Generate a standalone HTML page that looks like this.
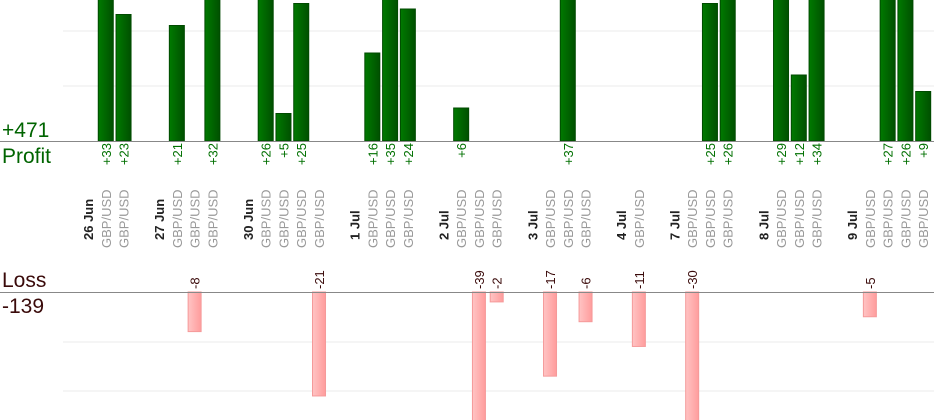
<!DOCTYPE html>
<html><head><meta charset="utf-8"><style>
html,body{margin:0;padding:0;background:#fff;width:934px;height:420px;overflow:hidden}
svg{display:block;font-family:"Liberation Sans",sans-serif}
</style></head><body>
<svg id="chart" width="934" height="420" viewBox="0 0 934 420">
<defs>
<linearGradient id="gG" x1="0" x2="1"><stop offset="0" stop-color="#007a00"/><stop offset="1" stop-color="#005000"/></linearGradient>
<linearGradient id="gR" x1="0" x2="1"><stop offset="0" stop-color="#ffc4c4"/><stop offset="1" stop-color="#ff9c9c"/></linearGradient>
</defs>
<line x1="63" x2="934" y1="86" y2="86" stroke="#ebebeb"/>
<line x1="63" x2="934" y1="31" y2="31" stroke="#ebebeb"/>
<line x1="63" x2="934" y1="342" y2="342" stroke="#ebebeb"/>
<line x1="63" x2="934" y1="391" y2="391" stroke="#ebebeb"/>
<g id="bars"></g>
<line x1="0" x2="934" y1="141.5" y2="141.5" stroke="#888"/>
<line x1="0" x2="934" y1="292.5" y2="292.5" stroke="#888"/>
<text x="2" y="137" font-size="21" fill="#006400">+471</text>
<text x="2" y="163" font-size="21" fill="#006400">Profit</text>
<text x="2" y="287" font-size="21" fill="#3a0a0a">Loss</text>
<text x="2" y="313" font-size="21" fill="#3a0a0a">-139</text>
<g id="labels"></g>
</svg>
<script>
// slot sequence: "D:" date label, "" gap, number = trade result
const slots = ["D:26 Jun",33,23,"","D:27 Jun",21,-8,32,"","D:30 Jun",26,5,25,-21,"","D:1 Jul",16,35,24,"","D:2 Jul",6,-39,-2,"","D:3 Jul",-17,37,-6,"","D:4 Jul",-11,"","D:7 Jul",-30,25,26,"","D:8 Jul",29,12,34,"","D:9 Jul",-5,27,26,9];
const pair = "GBP/USD";
const NS="http://www.w3.org/2000/svg";
const x0=88, slotW=17.77, pBase=141, pScale=5.5, lBase=292, lScale=4.95;
const xS = i => x0 + i*slotW;
const yP = v => pBase - v*pScale;
const yL = v => lBase + v*lScale;
const bars=document.getElementById('bars'), labels=document.getElementById('labels');
function mk(tag,attrs,parent){const e=document.createElementNS(NS,tag);for(const k in attrs)e.setAttribute(k,attrs[k]);parent.appendChild(e);return e;}
function vtext(x,y,str,anchor,fill,size,weight,parent){
  const t=mk('text',{transform:`translate(${x},${y}) rotate(-90)`,'text-anchor':anchor,fill:fill,'font-size':size,'font-weight':weight},parent);
  t.textContent=str;return t;}
slots.forEach((s,i)=>{
  const c=xS(i);
  if(typeof s==="string"){
    if(s.startsWith("D:")){
      const t=vtext(c+5,240,s.slice(2),"start","#222",13,"bold",labels);
      
      
    }
    return;
  }
  const g=vtext(c+5,248,pair,"start","#999",13,"normal",labels);
  
  
  if(s>0){
    const top=Math.max(yP(s),-2);
    const r=mk('rect',{x:c-7.5,y:top,width:15,height:pBase-top,fill:"url(#gG)",stroke:"#004a00","stroke-width":1},bars);
    
    
    const t=vtext(c+5,143,"+"+s,"end","#007000",13,"normal",labels);
    
    
  } else {
    const bot=Math.min(yL(-s),422);
    const r=mk('rect',{x:c-6.5,y:lBase,width:13,height:bot-lBase,fill:"url(#gR)",stroke:"#f59a9a","stroke-width":1},bars);
    
    
    const t=vtext(c+5,289,String(s),"start","#3a0a0a",13,"normal",labels);
    
    
  }
});
</script>
</body></html>
